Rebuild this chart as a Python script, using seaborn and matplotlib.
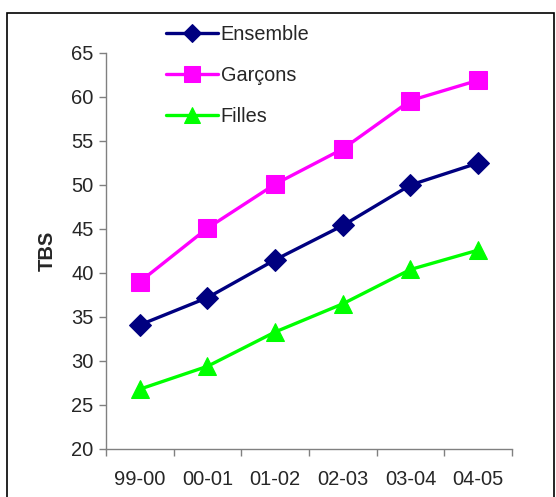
import numpy as np
import pandas as pd
import seaborn as sns
import matplotlib.pyplot as plt
from matplotlib.patches import Rectangle

years = ['99-00', '00-01', '01-02', '02-03', '03-04', '04-05']
ensemble = [34.1, 37.2, 41.5, 45.4, 50.0, 52.5]
garcons = [39.0, 45.1, 50.1, 54.1, 59.6, 61.9]
filles = [26.8, 29.4, 33.3, 36.5, 40.4, 42.6]

sns.set_style('white')
plt.rcParams['font.family'] = ['Liberation Sans', 'DejaVu Sans']

fig = plt.figure(figsize=(5.56, 4.97), dpi=100)
ax = fig.add_axes([106/556, 1 - 449/497, 406/556, 396/497])

x = np.arange(len(years))
series = [
    ('Ensemble', ensemble, '#000080', 'D', 11),
    ('Garçons', garcons, '#FF00FF', 's', 13),
    ('Filles', filles, '#00FF00', '^', 13),
]
for name, vals, col, mk, ms in series:
    sns.lineplot(x=x, y=vals, ax=ax, color=col, marker=mk, markersize=ms,
                 markeredgecolor=col, linewidth=2.4, label=name)

ax.set_xlim(-0.5, 5.5)
ax.set_ylim(20, 65)
ax.set_yticks(range(20, 66, 5))
ax.set_xticks(np.arange(-0.5, 6, 1))
ax.set_xticklabels([])
ax.set_xticks(x, minor=True)
ax.set_xticklabels(years, minor=True)
ax.tick_params(axis='x', which='minor', length=0, pad=15, labelsize=14.5)
ax.tick_params(axis='x', which='major', length=5, width=1, color='#808080', direction='out')
ax.tick_params(axis='y', length=5, width=1, color='#808080', direction='out', labelsize=14.5, pad=4)
ax.xaxis.set_ticks_position('bottom')
ax.yaxis.set_ticks_position('left')
for s in ['top', 'right']:
    ax.spines[s].set_visible(False)
for s in ['left', 'bottom']:
    ax.spines[s].set_color('#808080')
    ax.spines[s].set_linewidth(1)

ax.set_xlabel('')
ax.set_ylabel('TBS', fontsize=14.5, fontweight='bold', labelpad=10)

ax.legend(loc='upper left', bbox_to_anchor=(158/556, 1 - 17/497),
          bbox_transform=fig.transFigure, frameon=False, fontsize=14.3,
          handlelength=2.6, labelspacing=1.12, handletextpad=0.15,
          markerscale=0.85, borderaxespad=0)

fig.patches.append(Rectangle((7/556, -0.02), 547/556, 1.02 - 13/497,
                             transform=fig.transFigure, fill=False,
                             edgecolor='black', linewidth=1.2))

fig.savefig('out.png', dpi=100)
